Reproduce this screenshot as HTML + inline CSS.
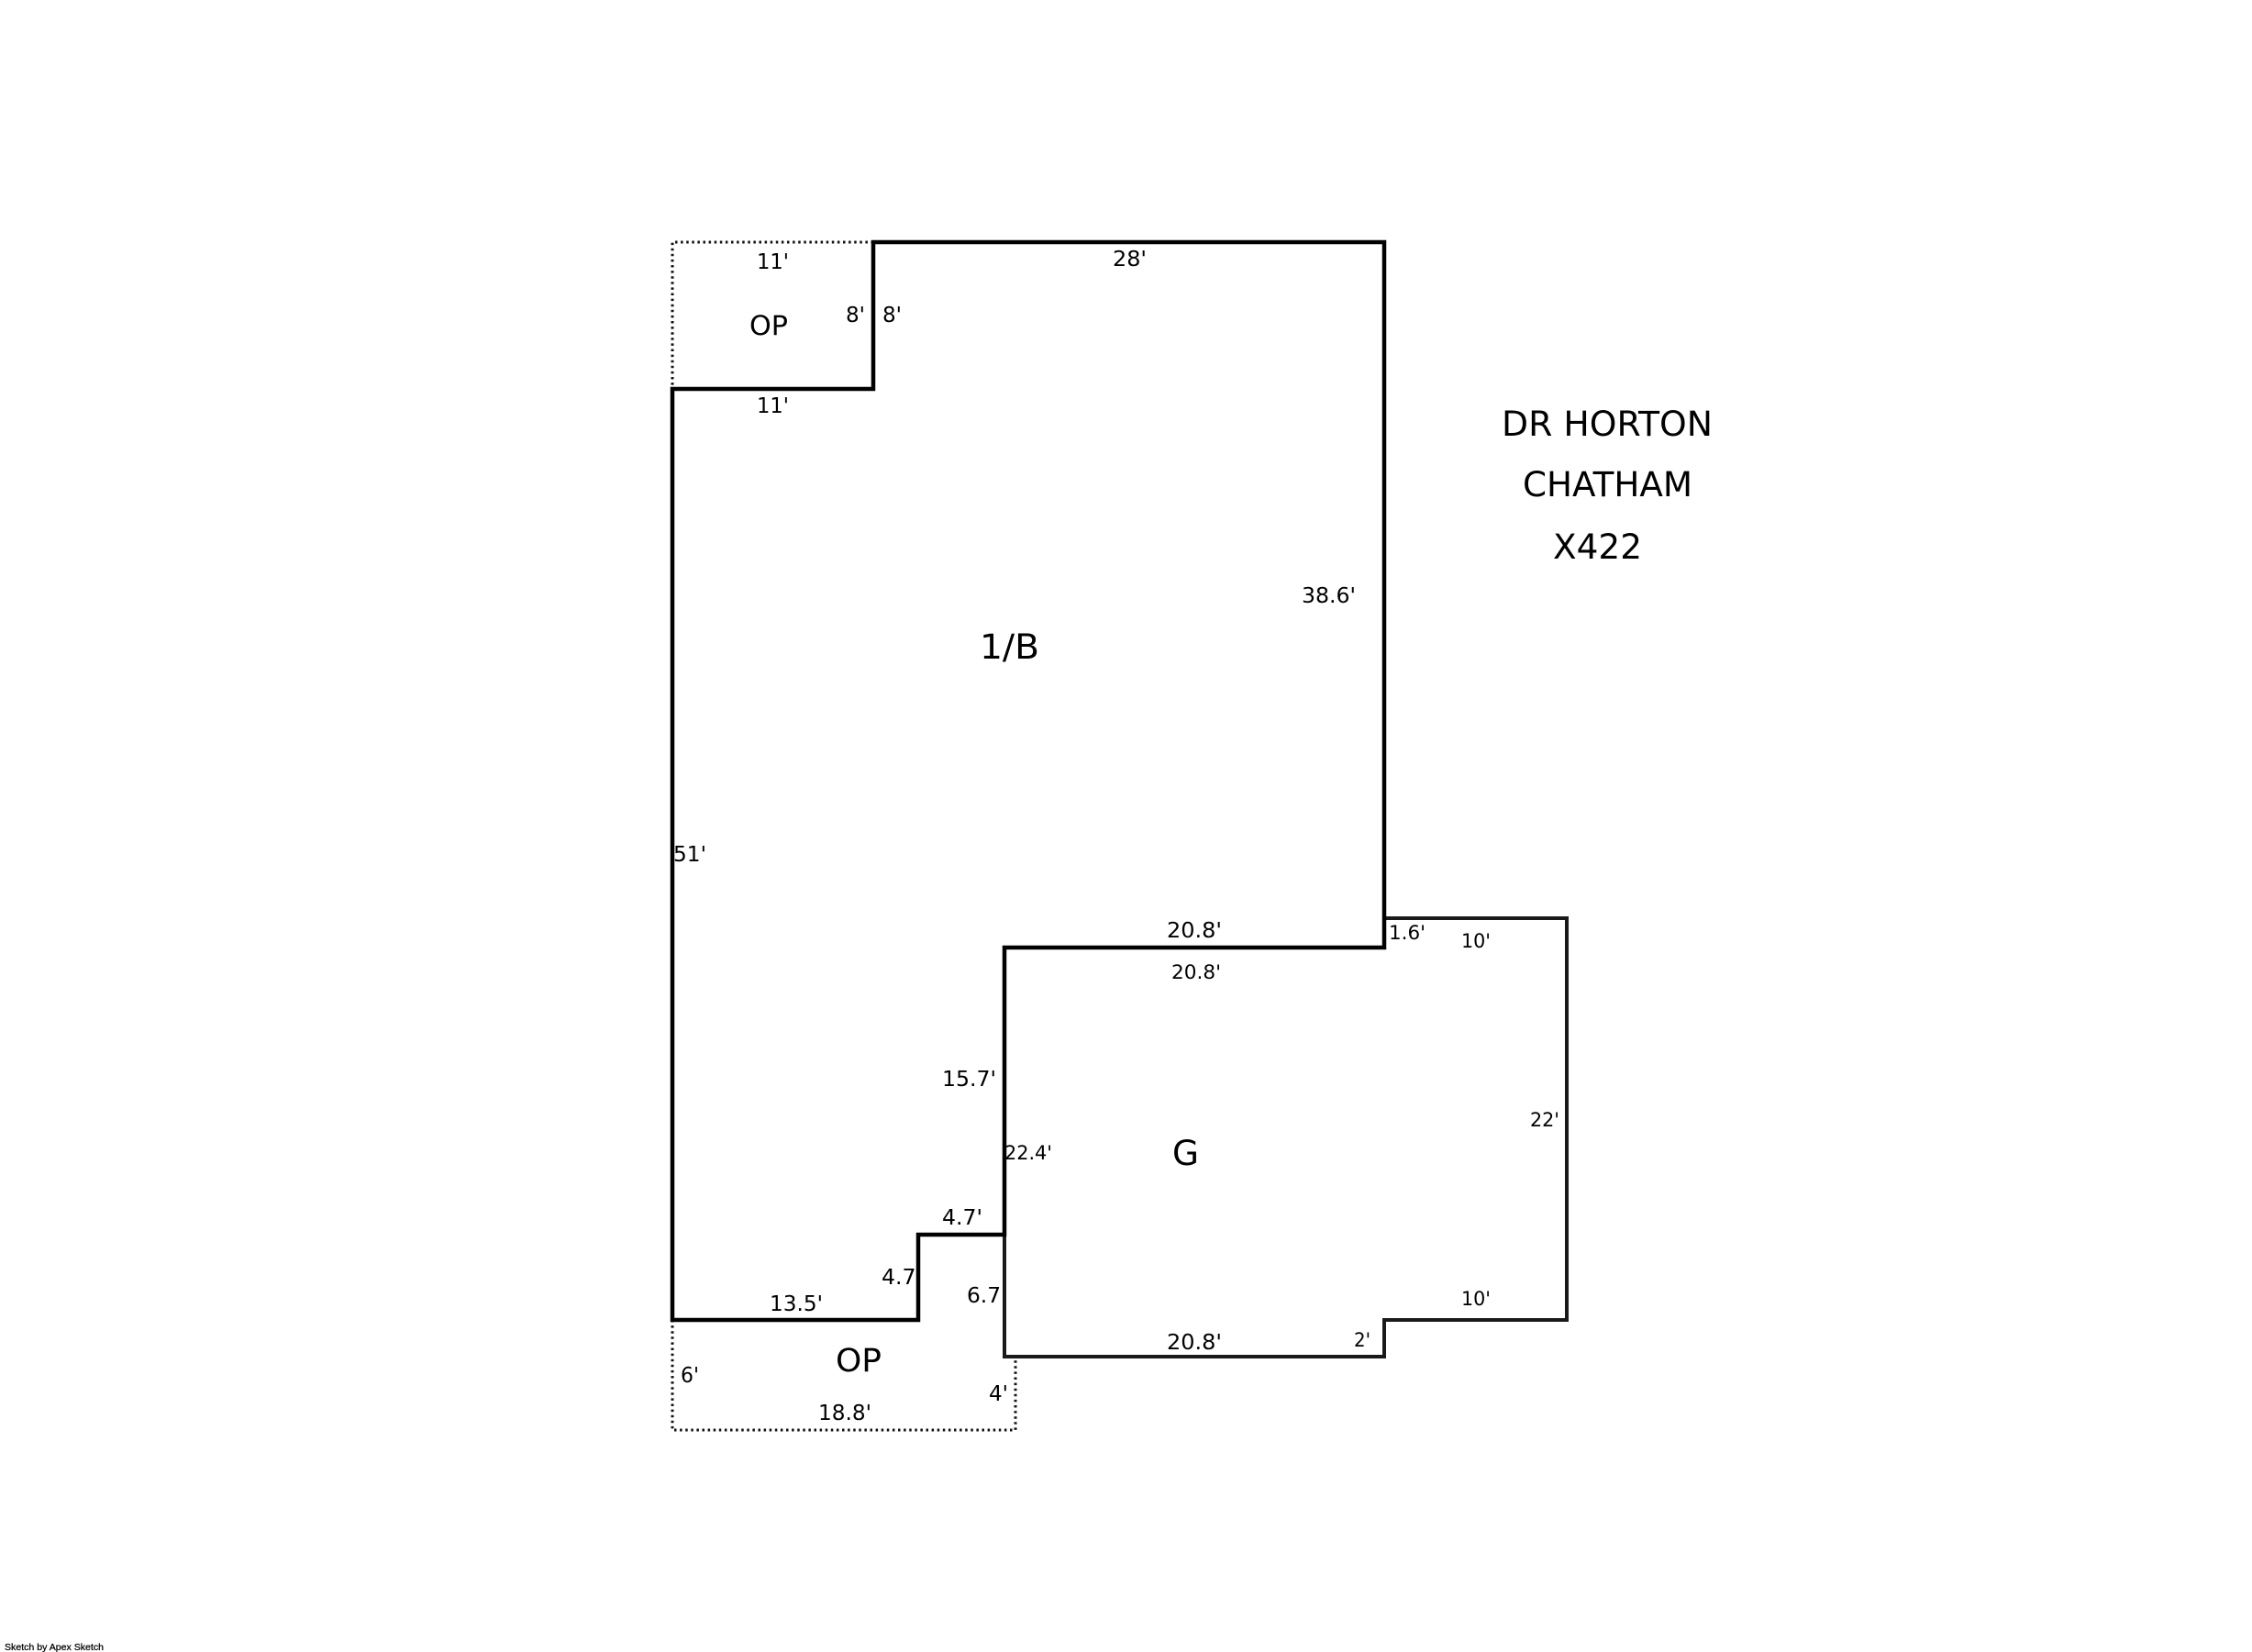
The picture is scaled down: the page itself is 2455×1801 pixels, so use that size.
<!DOCTYPE html>
<html><head><meta charset="utf-8"><style>
html,body{margin:0;padding:0;background:#fff}
svg{display:block}
text{font-family:"DejaVu Sans","Liberation Sans",sans-serif;fill:#000}
</style></head><body>
<svg width="2455" height="1801" viewBox="0 0 2455 1801" xmlns="http://www.w3.org/2000/svg">
<rect width="2455" height="1801" fill="#fff"/>
<g fill="none" stroke="#000" stroke-linecap="square">
<path d="M952 264H733V424M733 1439V1559H1107V1479" stroke-width="3" stroke-dasharray="2.5 3.6" stroke-linecap="butt" stroke="#111"/>
<path d="M1509 1001H1708V1439H1509V1479H1095V1346" stroke-width="4" stroke="#1a1a1a"/>
<path d="M733 424H952V264H1509V1033H1095V1346H1001V1439H733Z" stroke-width="4.5" stroke-linejoin="miter"/>
</g>
<g font-size="23">
<text x="825" y="293" textLength="35" lengthAdjust="spacingAndGlyphs">11'</text>
<text x="825" y="450" textLength="35" lengthAdjust="spacingAndGlyphs">11'</text>
<text x="922" y="351" textLength="21" lengthAdjust="spacingAndGlyphs">8'</text>
<text x="962" y="351" textLength="21" lengthAdjust="spacingAndGlyphs">8'</text>
<text x="1213" y="290" textLength="37" lengthAdjust="spacingAndGlyphs">28'</text>
<text x="1419" y="657" textLength="59" lengthAdjust="spacingAndGlyphs">38.6'</text>
<text x="734" y="939" textLength="36" lengthAdjust="spacingAndGlyphs">51'</text>
<text x="1272" y="1022" textLength="60" lengthAdjust="spacingAndGlyphs">20.8'</text>
<text x="1277" y="1067" font-size="21" textLength="54" lengthAdjust="spacingAndGlyphs">20.8'</text>
<text x="1514" y="1024" font-size="21" textLength="40" lengthAdjust="spacingAndGlyphs">1.6'</text>
<text x="1593" y="1033" font-size="21" textLength="32" lengthAdjust="spacingAndGlyphs">10'</text>
<text x="1668" y="1228" font-size="21" textLength="32" lengthAdjust="spacingAndGlyphs">22'</text>
<text x="1027" y="1184" textLength="59" lengthAdjust="spacingAndGlyphs">15.7'</text>
<text x="1095" y="1264" font-size="21" textLength="52" lengthAdjust="spacingAndGlyphs">22.4'</text>
<text x="1027" y="1335" textLength="44" lengthAdjust="spacingAndGlyphs">4.7'</text>
<text x="961" y="1400" textLength="44" lengthAdjust="spacingAndGlyphs">4.7'</text>
<text x="1054" y="1420" textLength="37" lengthAdjust="spacingAndGlyphs">6.7</text>
<text x="839" y="1429" textLength="58" lengthAdjust="spacingAndGlyphs">13.5'</text>
<text x="742" y="1507" textLength="20" lengthAdjust="spacingAndGlyphs">6'</text>
<text x="1078" y="1527" textLength="21" lengthAdjust="spacingAndGlyphs">4'</text>
<text x="892" y="1548" textLength="58" lengthAdjust="spacingAndGlyphs">18.8'</text>
<text x="1272" y="1471" textLength="60" lengthAdjust="spacingAndGlyphs">20.8'</text>
<text x="1476" y="1468" font-size="21" textLength="18" lengthAdjust="spacingAndGlyphs">2'</text>
<text x="1593" y="1423" font-size="21" textLength="32" lengthAdjust="spacingAndGlyphs">10'</text>
</g>
<text x="817" y="365" font-size="29" textLength="42" lengthAdjust="spacingAndGlyphs">OP</text>
<text x="911" y="1495" font-size="35" textLength="50" lengthAdjust="spacingAndGlyphs">OP</text>
<text x="1068" y="718" font-size="37" textLength="65" lengthAdjust="spacingAndGlyphs">1/B</text>
<text x="1278" y="1270" font-size="37" textLength="29" lengthAdjust="spacingAndGlyphs">G</text>
<text x="1637" y="475" font-size="37" textLength="230" lengthAdjust="spacingAndGlyphs">DR HORTON</text>
<text x="1660" y="541" font-size="37" textLength="185" lengthAdjust="spacingAndGlyphs">CHATHAM</text>
<text x="1693" y="609" font-size="37" textLength="97" lengthAdjust="spacingAndGlyphs">X422</text>
<text x="5" y="1799" font-size="10.5" textLength="108" lengthAdjust="spacingAndGlyphs" stroke="#000" stroke-width="0.25" style="font-family:'Liberation Sans',sans-serif">Sketch by Apex Sketch</text>
</svg>
</body></html>
